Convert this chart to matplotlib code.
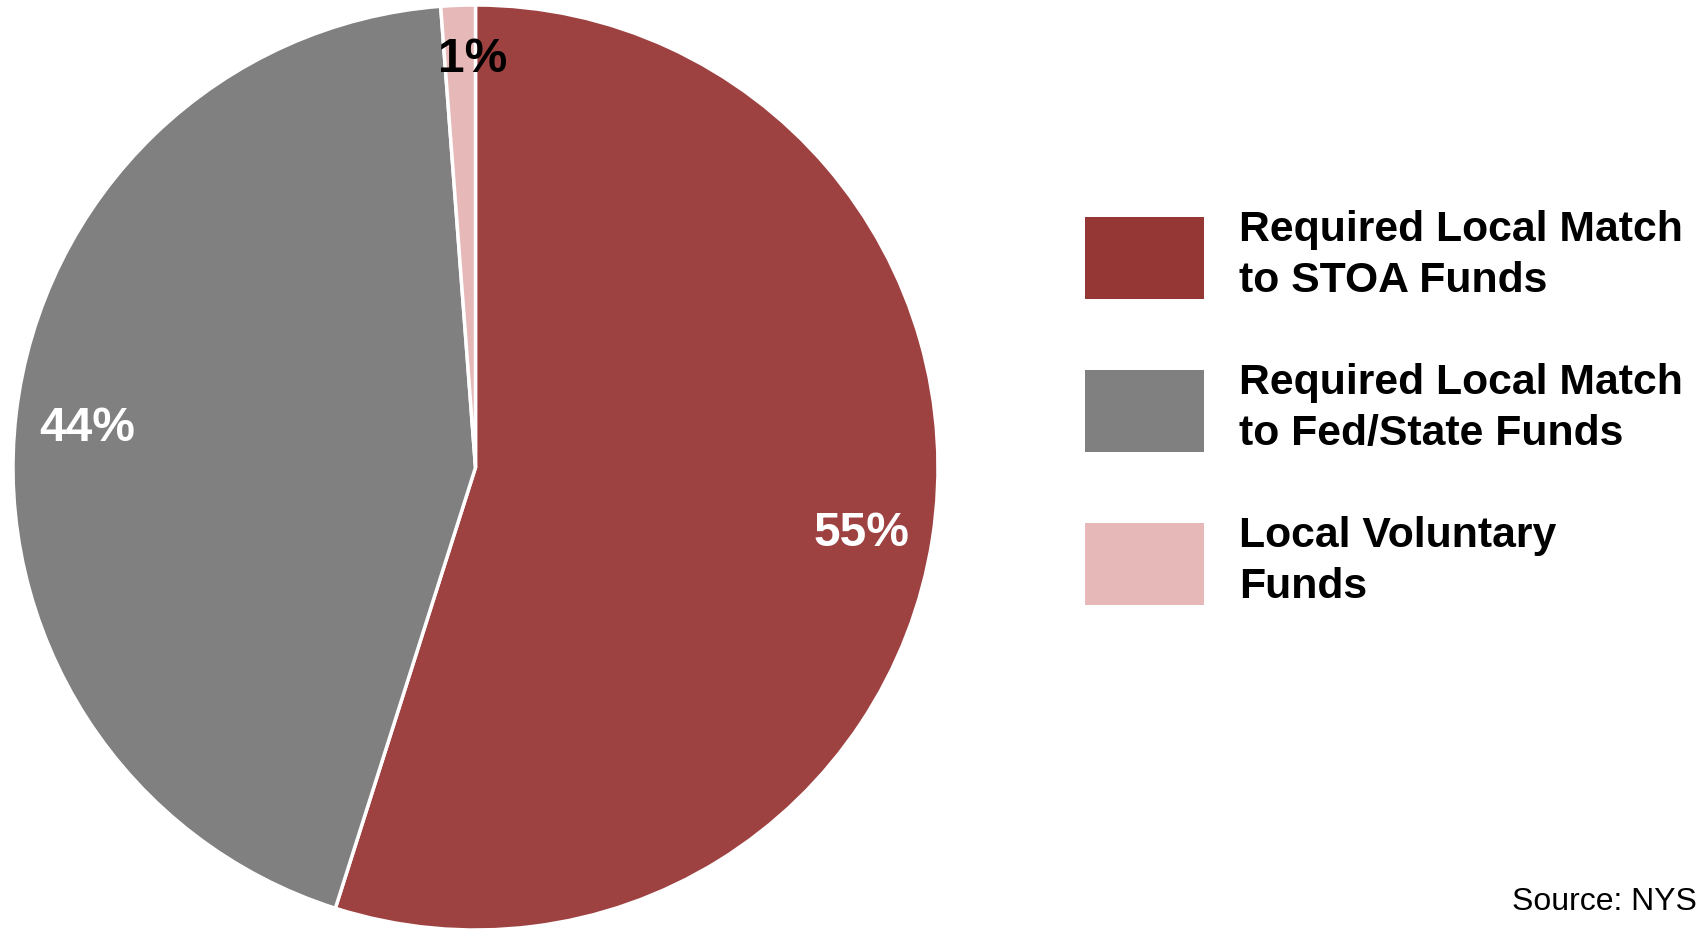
import matplotlib
matplotlib.use("Agg")
from matplotlib import pyplot as plt
from matplotlib.patches import Patch

plt.rcParams['font.family'] = ['Liberation Sans', 'DejaVu Sans']

# shares of local funds
labels = ["Required Local Match\nto STOA Funds",
          "Required Local Match\nto Fed/State Funds",
          "Local Voluntary\nFunds"]
shares = [54.9, 43.9, 1.2]
pie_colors = ["#9E4141", "#808080", "#E6B8B7"]
legend_colors = ["#953735", "#808080", "#E6B8B7"]
pct_colors = ["white", "white", "black"]

W, H = 1699, 931
fig = plt.figure(figsize=(W / 100, H / 100), dpi=100)

# pie axes: centre ~ (475, 467) px, radius ~ 462 px
cx, cy, r = 475.5, 467.5, 462.5
ax = fig.add_axes([(cx - r) / W, (H - cy - r) / H, 2 * r / W, 2 * r / H])
wedges, texts, autotexts = ax.pie(shares, colors=pie_colors, startangle=90,
                                  counterclock=False, autopct='%1.0f%%',
                                  pctdistance=0.845,
                                  wedgeprops=dict(edgecolor="white", linewidth=2.5))
ax.set_xlim(-1, 1)
ax.set_ylim(-1, 1)
ax.axis("off")

for t, c in zip(autotexts, pct_colors):
    t.set_color(c)
    t.set_fontsize(34.5)
    t.set_fontweight("bold")
    x, y = t.get_position()
    t.set_position((x, y - 0.013))
# little slice label sits a bit higher and right of the wedge middle
x, y = autotexts[2].get_position()
autotexts[2].set_position((x + 0.025, y + 0.05))

handles = [Patch(facecolor=c, edgecolor="none") for c in legend_colors]
leg = fig.legend(handles, labels, loc="upper left",
                 bbox_to_anchor=(1085 / W, 1 - 210 / H),
                 frameon=False, borderpad=0, borderaxespad=0,
                 prop=dict(size=30.8, weight="bold"),
                 handlelength=2.78, handleheight=2.56, handletextpad=0.82,
                 labelspacing=1.46)
for t in leg.get_texts():
    t.set_linespacing(1.34)

fig.text(1697 / W, 21 / H, "Source: NYS", ha="right", va="baseline", fontsize=23)

plt.savefig("out.png", dpi=100)
